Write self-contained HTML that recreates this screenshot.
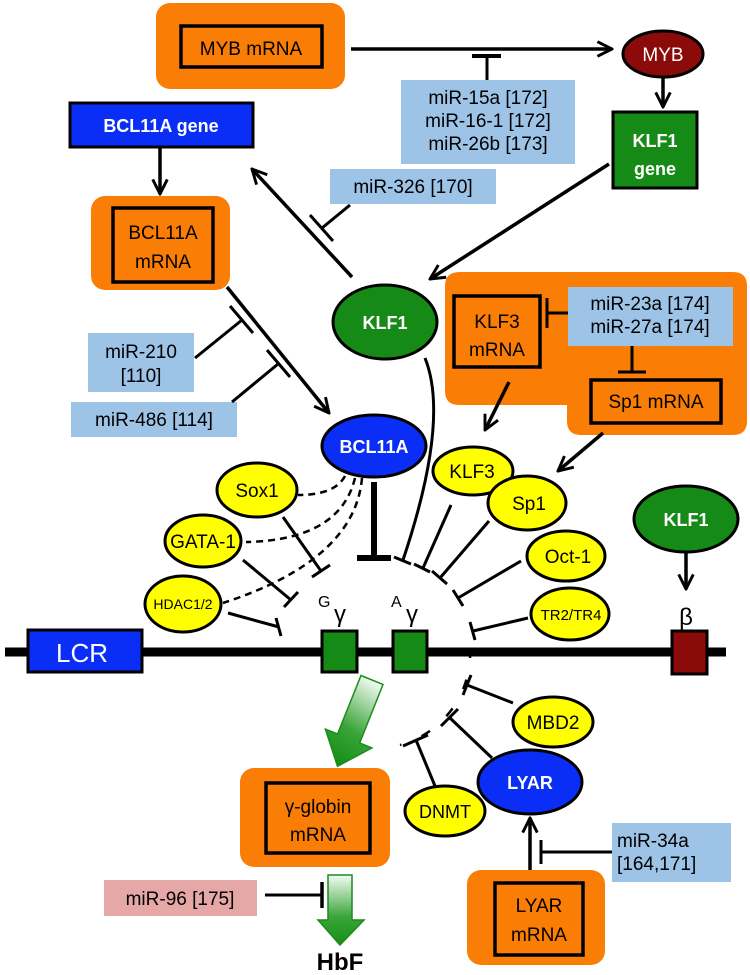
<!DOCTYPE html>
<html><head><meta charset="utf-8"><style>
html,body{margin:0;padding:0;background:#fff;}
svg{display:block;}
text{font-family:"Liberation Sans",sans-serif;}
</style></head><body>
<svg width="750" height="975" viewBox="0 0 750 975" xmlns="http://www.w3.org/2000/svg">
<defs>
<marker id="ah" viewBox="0 0 12 12" refX="11" refY="6" markerWidth="5" markerHeight="5" orient="auto" markerUnits="strokeWidth">
<path d="M1,1 L11,6 L1,11" fill="none" stroke="#000" stroke-width="2"/>
</marker>
<linearGradient id="g1" x1="0" y1="0" x2="0" y2="1"><stop offset="0" stop-color="#f4fbf4"/><stop offset="0.6" stop-color="#3aa53a"/><stop offset="1" stop-color="#159015"/></linearGradient>
<linearGradient id="g2" x1="0.7" y1="0" x2="0.3" y2="1"><stop offset="0" stop-color="#f4fbf4"/><stop offset="0.6" stop-color="#3aa53a"/><stop offset="1" stop-color="#159015"/></linearGradient>
</defs>
<g fill="none" stroke="#000">
<!-- orange boxes -->
<rect x="156" y="3" width="189" height="86" rx="14" fill="#FA7D05" stroke="none"/>
<rect x="181" y="26" width="141" height="41" fill="#FA7D05" stroke-width="3.5"/>
<rect x="91" y="196" width="139" height="94" rx="14" fill="#FA7D05" stroke="none"/>
<rect x="113" y="208" width="100" height="74" fill="#FA7D05" stroke-width="3.5"/>
<path d="M460,272 H733 Q747,272 747,286 V421 Q747,435 733,435 H581 Q567,435 567,421 V405 H459 Q445,405 445,391 V286 Q445,272 460,272Z" fill="#FA7D05" stroke="none"/>
<rect x="454" y="296" width="86" height="71" fill="#FA7D05" stroke-width="3.5"/>
<rect x="591" y="380" width="130" height="43" fill="#FA7D05" stroke-width="3.5"/>
<rect x="240" y="768" width="150" height="99" rx="14" fill="#FA7D05" stroke="none"/>
<rect x="266" y="783" width="104" height="70" fill="#FA7D05" stroke-width="3.5"/>
<rect x="467" y="870" width="138" height="95" rx="14" fill="#FA7D05" stroke="none"/>
<rect x="495" y="883" width="88" height="72" fill="#FA7D05" stroke-width="3.5"/>
<!-- blue mir boxes -->
<rect x="401" y="80" width="174" height="84" fill="#9DC3E6" stroke="none"/>
<rect x="330" y="169" width="166" height="35" fill="#9DC3E6" stroke="none"/>
<rect x="88" y="333" width="106" height="59" fill="#9DC3E6" stroke="none"/>
<rect x="71" y="402" width="166" height="35" fill="#9DC3E6" stroke="none"/>
<rect x="568" y="287" width="165" height="59" fill="#9DC3E6" stroke="none"/>
<rect x="612" y="823" width="119" height="59" fill="#9DC3E6" stroke="none"/>
<rect x="104" y="880" width="153" height="36" fill="#E6A7A7" stroke="none"/>
<!-- gene boxes -->
<rect x="70" y="103" width="183" height="44" fill="#0A2EF5" stroke-width="3"/>
<rect x="613" y="112" width="84" height="76" fill="#168A16" stroke-width="3"/>
<!-- arrows -->
<g stroke-width="3.5">
<line x1="351" y1="49" x2="612" y2="49" marker-end="url(#ah)"/>
<line x1="663" y1="78" x2="663" y2="107" marker-end="url(#ah)"/>
<line x1="160" y1="148" x2="160" y2="194" marker-end="url(#ah)"/>
<line x1="352" y1="277" x2="252" y2="169" marker-end="url(#ah)"/>
<line x1="609" y1="164" x2="430" y2="279" marker-end="url(#ah)"/>
<line x1="227" y1="287" x2="329" y2="413" marker-end="url(#ah)"/>
<line x1="509" y1="382" x2="485" y2="430" marker-end="url(#ah)"/>
<line x1="603" y1="433" x2="558" y2="471" marker-end="url(#ah)"/>
<line x1="686" y1="543" x2="686" y2="589" marker-end="url(#ah)"/>
<line x1="530" y1="870" x2="530" y2="818" marker-end="url(#ah)"/>
</g>
<!-- inhibitions -->
<g stroke-width="3">
<line x1="487" y1="80" x2="487" y2="56"/><line x1="472" y1="56" x2="501" y2="56" stroke-width="4"/>
<line x1="350" y1="205" x2="322" y2="228"/><line x1="310" y1="215" x2="333" y2="241"/>
<line x1="195" y1="358" x2="242" y2="320"/><line x1="230" y1="306" x2="253" y2="333"/>
<line x1="232" y1="402" x2="278" y2="364"/><line x1="267" y1="350" x2="290" y2="377"/>
<line x1="568" y1="313" x2="547" y2="313"/><line x1="547" y1="298" x2="547" y2="328"/>
<line x1="632" y1="346" x2="632" y2="372"/><line x1="618" y1="372" x2="646" y2="372"/>
<line x1="374" y1="482" x2="374" y2="558" stroke-width="6"/><line x1="357" y1="558" x2="391" y2="558" stroke-width="6"/>
<path d="M425,358 Q450,420 403,560"/><line x1="394" y1="557" x2="411" y2="564"/>
<line x1="283" y1="517" x2="321" y2="571"/><line x1="312" y1="577" x2="330" y2="565"/>
<line x1="243" y1="560" x2="291" y2="600"/><line x1="284" y1="607" x2="298" y2="592"/>
<line x1="228" y1="613" x2="279" y2="627"/><line x1="276" y1="618" x2="281" y2="636"/>
<line x1="451" y1="505" x2="423" y2="568"/><line x1="414" y1="564" x2="430" y2="572"/>
<line x1="489" y1="521" x2="440" y2="578"/><line x1="432" y1="571" x2="447" y2="584"/>
<line x1="521" y1="561" x2="458" y2="598"/><line x1="453" y1="590" x2="463" y2="606"/>
<line x1="528" y1="618" x2="473" y2="631"/><line x1="470" y1="622" x2="475" y2="640"/>
<line x1="513" y1="703" x2="467" y2="685"/><line x1="463" y1="695" x2="471" y2="675"/>
<line x1="492" y1="758" x2="450" y2="718"/><line x1="441" y1="726" x2="458" y2="709"/>
<line x1="435" y1="786" x2="416" y2="740"/><line x1="403" y1="746" x2="428" y2="735"/>
<line x1="612" y1="852" x2="541" y2="852"/><line x1="541" y1="840" x2="541" y2="864"/>
<line x1="265" y1="895" x2="321" y2="895"/><line x1="322" y1="882" x2="322" y2="908" stroke-width="3.5"/>
</g>
<!-- dashed arc -->
<path d="M470,648 A95,95 0 0 1 400,745" stroke-width="2.5" stroke-dasharray="10 22"/>
<!-- dashed from BCL11A -->
<g stroke-width="2.5" stroke-dasharray="7 5">
<path d="M345,476 Q335,495 298,495"/>
<path d="M355,478 Q340,540 246,542"/>
<path d="M362,478 Q355,560 223,603"/>
</g>
<!-- gene line -->
<line x1="5" y1="652" x2="726" y2="652" stroke-width="9"/>
<rect x="28" y="630" width="114" height="42" fill="#0A2EF5" stroke-width="3"/>
<rect x="322" y="631" width="35" height="41" fill="#168A16" stroke-width="3"/>
<rect x="393" y="631" width="34" height="41" fill="#168A16" stroke-width="3"/>
<rect x="672" y="631" width="35" height="43" fill="#8B0A0A" stroke-width="3"/>
<!-- ellipses -->
<g stroke-width="3">
<ellipse cx="663" cy="54" rx="40" ry="23" fill="#8B0A0A"/>
<ellipse cx="385" cy="322" rx="52" ry="37" fill="#168A16"/>
<ellipse cx="374" cy="446" rx="52" ry="31" fill="#0A2EF5"/>
<ellipse cx="257" cy="490" rx="40" ry="27" fill="#FFFF00"/>
<ellipse cx="203" cy="541" rx="38" ry="26" fill="#FFFF00"/>
<ellipse cx="183" cy="604" rx="38" ry="28" fill="#FFFF00"/>
<ellipse cx="473" cy="471" rx="40" ry="24" fill="#FFFF00"/>
<ellipse cx="527" cy="503" rx="39" ry="27" fill="#FFFF00"/>
<ellipse cx="566" cy="556" rx="39" ry="25" fill="#FFFF00"/>
<ellipse cx="570" cy="614" rx="39" ry="26" fill="#FFFF00"/>
<ellipse cx="686" cy="519" rx="52" ry="33" fill="#168A16"/>
<ellipse cx="553" cy="722" rx="40" ry="25" fill="#FFFF00"/>
<ellipse cx="445" cy="811" rx="40" ry="25" fill="#FFFF00"/>
<ellipse cx="530" cy="782" rx="52" ry="32" fill="#0A2EF5"/>
</g>
</g>
<!-- green block arrows -->
<polygon points="383,684.5 359.7,743 371.8,748 337.5,766.3 325.4,729.2 337.5,734 361,675.5" fill="url(#g2)" stroke="#1c8c1c" stroke-width="1.5"/>
<polygon points="328,875 352,875 352,920 364,920 340,945 318,920 328,920" fill="url(#g1)" stroke="#1c8c1c" stroke-width="1.5"/>
<!-- text -->
<g font-size="19" text-anchor="middle" fill="#000">
<text x="251" y="55">MYB mRNA</text>
<text x="488" y="104">miR-15a [172]</text>
<text x="488" y="127">miR-16-1 [172]</text>
<text x="488" y="150">miR-26b [173]</text>
<text x="413" y="193">miR-326 [170]</text>
<text x="163" y="239">BCL11A</text>
<text x="163" y="268">mRNA</text>
<text x="141" y="358">miR-210</text>
<text x="141" y="382">[110]</text>
<text x="154" y="426">miR-486 [114]</text>
<text x="497" y="328">KLF3</text>
<text x="497" y="356">mRNA</text>
<text x="650" y="310">miR-23a [174]</text>
<text x="650" y="333">miR-27a [174]</text>
<text x="656" y="408">Sp1 mRNA</text>
<text x="257" y="497">Sox1</text>
<text x="203" y="548">GATA-1</text>
<text x="183" y="609" font-size="14">HDAC1/2</text>
<text x="472" y="478">KLF3</text>
<text x="529" y="510">Sp1</text>
<text x="568" y="563">Oct-1</text>
<text x="571" y="620" font-size="15">TR2/TR4</text>
<text x="553" y="729">MBD2</text>
<text x="445" y="818" font-size="18">DNMT</text>
<text x="318" y="813">γ-globin</text>
<text x="318" y="841">mRNA</text>
<text x="539" y="912">LYAR</text>
<text x="539" y="941">mRNA</text>
<text x="180" y="905">miR-96 [175]</text>
<text x="617" y="847" text-anchor="start">miR-34a</text>
<text x="617" y="870" text-anchor="start">[164,171]</text>
<text x="686" y="625" font-size="24">β</text>
</g>
<g fill="#000">
<text x="318" y="607" font-size="16">G</text><text x="334" y="622" font-size="24">γ</text>
<text x="391" y="607" font-size="16">A</text><text x="406" y="622" font-size="24">γ</text>
</g>
<g font-weight="bold" text-anchor="middle" fill="#fff" font-size="18">
<text x="161" y="132">BCL11A gene</text>
<text x="655" y="147">KLF1</text>
<text x="655" y="175">gene</text>
<text x="385" y="329">KLF1</text>
<text x="374" y="453">BCL11A</text>
<text x="686" y="526">KLF1</text>
<text x="530" y="789">LYAR</text>
<text x="663" y="61" font-weight="normal" font-size="19">MYB</text>
<text x="82" y="662" font-weight="normal" font-size="26">LCR</text>
</g>
<text x="340" y="970" font-size="24" font-weight="bold" text-anchor="middle" fill="#000">HbF</text>
</svg>
</body></html>
